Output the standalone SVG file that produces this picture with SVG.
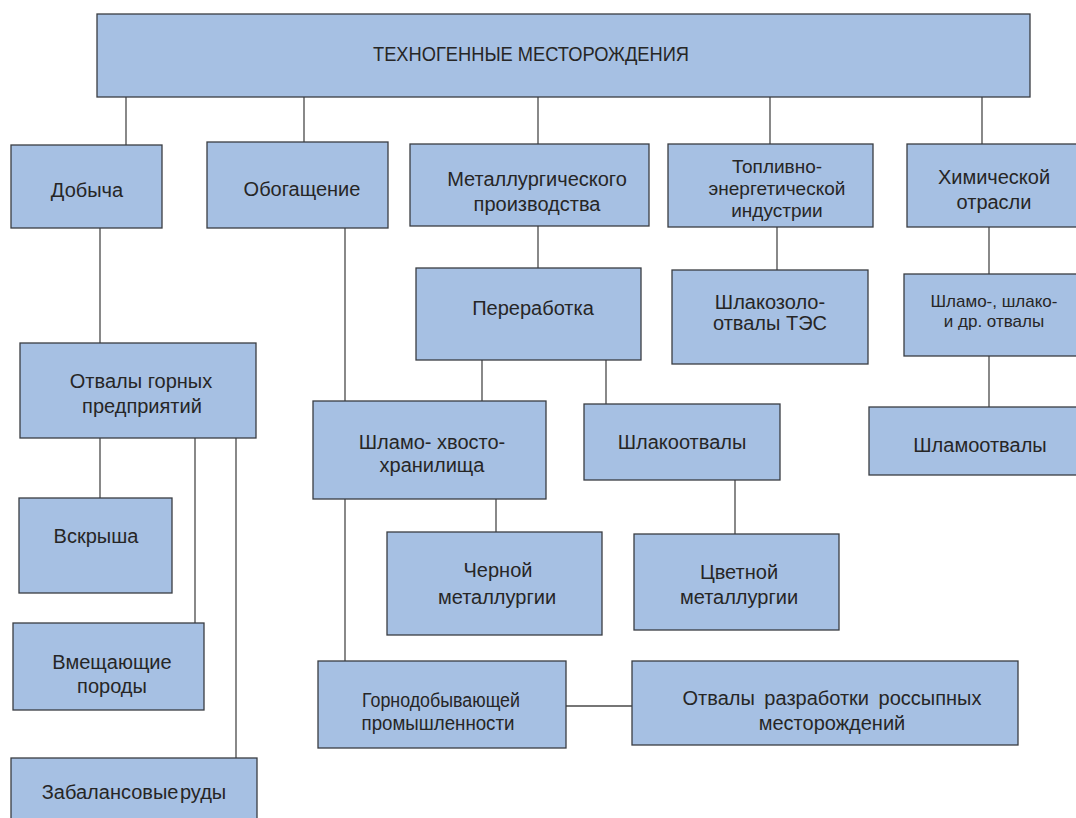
<svg xmlns="http://www.w3.org/2000/svg" width="1076" height="818" viewBox="0 0 1076 818">
<style>
.b{fill:#a6c0e3;stroke:#3a3d42;stroke-width:1.3}
.t{font-family:"Liberation Sans",Arial,sans-serif;font-size:20px;fill:#262626;text-anchor:middle}
.s{font-size:17px}
.m{font-size:19px}
.c{stroke:#4a4a4a;stroke-width:1.3;fill:none}
</style>
<rect width="1076" height="818" fill="#ffffff"/>
<g id="connectors">
<path class="c" d="M126 97V145M304 97V142M538 97V144M770 97V144M982 97V144"/>
<path class="c" d="M100 228V343M345 228V401M538 226V268M777 227V270M989 227V274M989 356V407"/>
<path class="c" d="M482 360V401M606 360V404"/>
<path class="c" d="M100 438V498M195 438V623M236 438V758"/>
<path class="c" d="M496 499V532M345 499V661M735 480V534M566 706H632"/>
</g>
<g id="n-root"><rect class="b" x="97" y="14" width="933" height="83"/><text class="t" x="531" y="61" textLength="316" lengthAdjust="spacingAndGlyphs">ТЕХНОГЕННЫЕ МЕСТОРОЖДЕНИЯ</text></g>
<g id="n-dobycha"><rect class="b" x="11" y="145" width="151" height="83"/><text class="t" x="87" y="197">Добыча</text></g>
<g id="n-obogashchenie"><rect class="b" x="207" y="142" width="181" height="86"/><text class="t" x="302" y="196">Обогащение</text></g>
<g id="n-metall"><rect class="b" x="410" y="144" width="239" height="82"/><text class="t" x="537" y="186">Металлургического</text><text class="t" x="537" y="211">производства</text></g>
<g id="n-toplivno"><rect class="b" x="668" y="144" width="205" height="83"/><text class="t m" x="777" y="173">Топливно-</text><text class="t m" x="777" y="195">энергетической</text><text class="t m" x="777" y="217">индустрии</text></g>
<g id="n-khim"><rect class="b" x="907" y="144" width="175" height="83"/><text class="t" x="994" y="184">Химической</text><text class="t" x="994" y="209">отрасли</text></g>
<g id="n-pererabotka"><rect class="b" x="416" y="268" width="225" height="92"/><text class="t" x="533" y="315">Переработка</text></g>
<g id="n-shlakozolo"><rect class="b" x="672" y="270" width="196" height="94"/><text class="t" x="770" y="309">Шлакозоло-</text><text class="t" x="770" y="330">отвалы ТЭС</text></g>
<g id="n-shlamo-shlako"><rect class="b" x="904" y="274" width="180" height="82"/><text class="t s" x="994" y="307">Шламо-, шлако-</text><text class="t s" x="994" y="327">и др. отвалы</text></g>
<g id="n-otvaly-gornykh"><rect class="b" x="20" y="343" width="236" height="95"/><text class="t" x="141" y="388">Отвалы горных</text><text class="t" x="142" y="413">предприятий</text></g>
<g id="n-shlamo-khvosto"><rect class="b" x="313" y="401" width="233" height="98"/><text class="t" x="432" y="449">Шламо- хвосто-</text><text class="t" x="432" y="472">хранилища</text></g>
<g id="n-shlakootvaly"><rect class="b" x="584" y="404" width="196" height="76"/><text class="t" x="682" y="449">Шлакоотвалы</text></g>
<g id="n-shlamootvaly"><rect class="b" x="869" y="407" width="215" height="68"/><text class="t" x="980" y="452">Шламоотвалы</text></g>
<g id="n-vskrysha"><rect class="b" x="19" y="498" width="153" height="95"/><text class="t" x="96" y="543">Вскрыша</text></g>
<g id="n-chernoy"><rect class="b" x="387" y="532" width="215" height="103"/><text class="t" x="498" y="577">Черной</text><text class="t" x="497" y="604">металлургии</text></g>
<g id="n-tsvetnoy"><rect class="b" x="634" y="534" width="205" height="96"/><text class="t" x="739" y="579">Цветной</text><text class="t" x="739" y="604">металлургии</text></g>
<g id="n-vmeshchayushchie"><rect class="b" x="13" y="623" width="191" height="87"/><text class="t" x="112" y="669">Вмещающие</text><text class="t" x="112" y="693">породы</text></g>
<g id="n-gornodob"><rect class="b" x="318" y="661" width="248" height="87"/><text class="t" x="441" y="707" textLength="158" lengthAdjust="spacingAndGlyphs">Горнодобывающей</text><text class="t" x="438" y="730" textLength="153" lengthAdjust="spacingAndGlyphs">промышленности</text></g>
<g id="n-rossypnye"><rect class="b" x="632" y="661" width="386" height="84"/><text class="t" x="832" y="705" word-spacing="4">Отвалы разработки россыпных</text><text class="t" x="832" y="730">месторождений</text></g>
<g id="n-zabalansovye"><rect class="b" x="11" y="758" width="246" height="70"/><text class="t" x="134" y="799" word-spacing="-4">Забалансовые руды</text></g>
</svg>
